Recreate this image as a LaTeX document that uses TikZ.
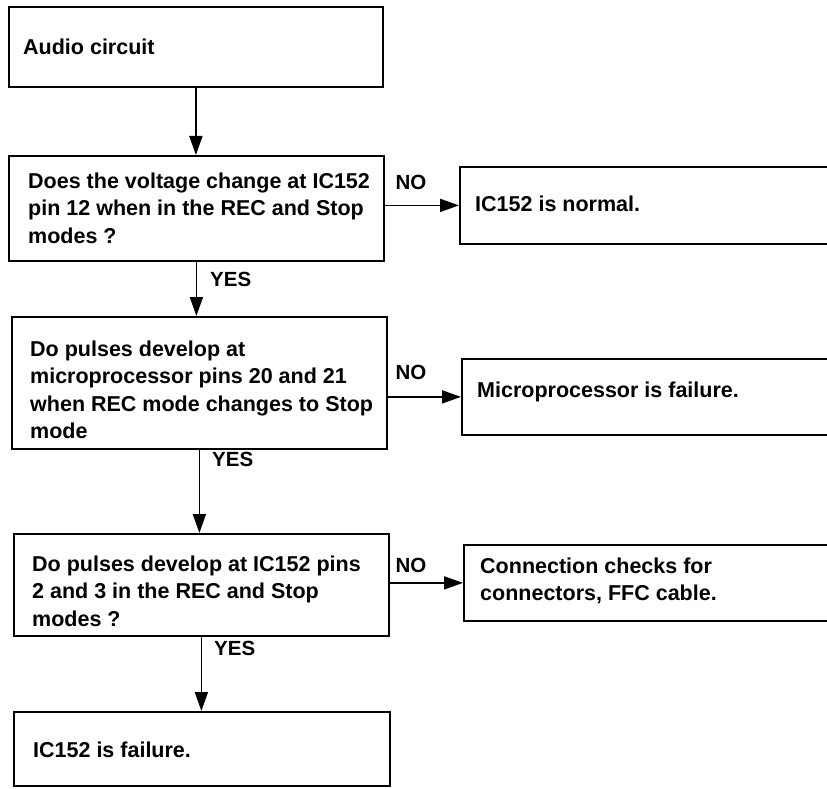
\documentclass[tikz,border=0pt]{standalone}
\usepackage{fontspec}
\setmainfont{Liberation Sans}
\usetikzlibrary{arrows.meta}
\begin{document}
\begin{tikzpicture}[x=1pt,y=-1pt,
  box/.style={draw, line width=1.8pt, rectangle, inner sep=0pt, anchor=north west},
  txt/.style={anchor=west, align=left, inner sep=0pt, font=\fontsize{21.5}{27.5}\selectfont\bfseries},
  lbl/.style={inner sep=0pt, font=\fontsize{20.5}{24}\selectfont\bfseries},
  arr/.style={line width=1.8pt, -{Triangle[length=19pt,width=13pt]}}]
\useasboundingbox (0,0) rectangle (827,789);
\clip (0,0) rectangle (827,789);
% boxes
\node[box, minimum width=374pt, minimum height=80pt]  (b1) at (8,6) {};
\node[box, minimum width=375pt, minimum height=105pt] (b2) at (8,155) {};
\node[box, minimum width=375pt, minimum height=132pt] (b3) at (11,316) {};
\node[box, minimum width=375pt, minimum height=102pt] (b4) at (13,533) {};
\node[box, minimum width=376pt, minimum height=74pt]  (b5) at (13,711) {};
\node[box, minimum width=400pt, minimum height=77pt]  (r1) at (459,166) {};
\node[box, minimum width=400pt, minimum height=76pt]  (r2) at (461,358) {};
\node[box, minimum width=400pt, minimum height=76pt]  (r3) at (463,544) {};
% texts
\node[txt] (t1) at (23,47) {Audio circuit};
\node[txt] (t2) at (28,208) {Does the voltage change at IC152\\pin 12 when in the REC and Stop\\modes ?};
\node[txt] (t3) at (30,390) {Do pulses develop at\\microprocessor pins 20 and 21\\when REC mode changes to Stop\\mode};
\node[txt] (t4) at (32,591) {Do pulses develop at IC152 pins\\2 and 3 in the REC and Stop\\modes ?};
\node[txt] (t5) at (33,750) {IC152 is failure.};
\node[txt] (s1) at (475,204) {IC152 is normal.};
\node[txt] (s2) at (477,392) {Microprocessor is failure.};
\node[txt] (s3) at (480,581) {Connection checks for\\connectors, FFC cable.};
% connectors
\draw[arr] (b1.south) -- (b1.south |- b2.north);
\draw[arr] (b2.south) -- (b2.south |- b3.north);
\draw[arr] (b3.south) -- (b3.south |- b4.north);
\draw[arr] (b4.south) -- (b4.south |- b5.north);
\draw[arr] (b2.east |- r1.west) -- (r1.west);
\draw[arr] (b3.east |- r2.west) -- (r2.west);
\draw[arr] (b4.east |- r3.west) -- (r3.west);
% labels
\node[lbl] (no1) at (411,182) {NO};
\node[lbl] (no2) at (411,372) {NO};
\node[lbl] (no3) at (411,565) {NO};
\node[lbl, anchor=west] (y1) at (210,279) {YES};
\node[lbl, anchor=west] (y2) at (212,459) {YES};
\node[lbl, anchor=west] (y3) at (214,648) {YES};
\end{tikzpicture}
\end{document}
